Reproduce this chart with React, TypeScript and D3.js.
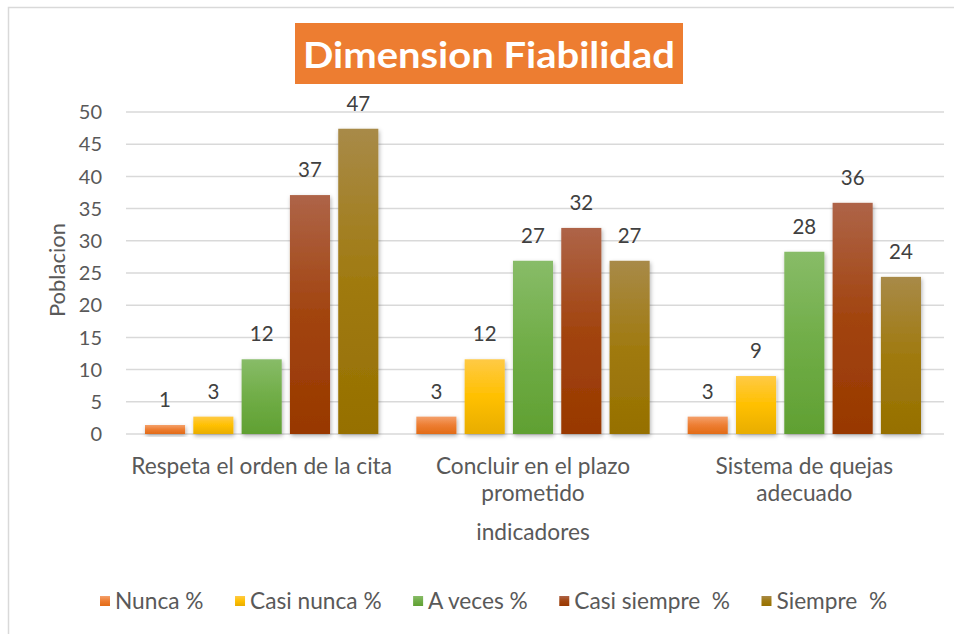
import React, { useEffect, useRef } from "react";
import * as d3 from "d3";

const categories = [
  "Respeta el orden de la cita",
  "Concluir en el plazo prometido",
  "Sistema de quejas adecuado",
];
const seriesNames = ["Nunca %", "Casi nunca %", "A veces %", "Casi siempre  %", "Siempre  %"];
const nunca = [1.4, 2.7, 2.7];
const casiNunca = [2.7, 11.6, 9.0];
const aVeces = [11.6, 26.9, 28.3];
const casiSiempre = [37.1, 32.0, 35.9];
const siempre = [47.4, 26.9, 24.4];
const yTicks = [0, 5, 10, 15, 20, 25, 30, 35, 40, 45, 50];
const seriesValues = [nunca, casiNunca, aVeces, casiSiempre, siempre];
const palette = [
  ["#f4a06b", "#ed7d31", "#e26b17"],
  ["#ffca45", "#ffc000", "#e8ad00"],
  ["#88bc68", "#70ad47", "#60a032"],
  ["#ae6448", "#a2440f", "#983800"],
  ["#a88a48", "#a07a10", "#967000"],
];

const FONT = "Lato, 'Open Sans', sans-serif";
const TXT = 22.7;

export default function App() {
  const ref = useRef<SVGSVGElement>(null);
  useEffect(() => {
    const svg = d3.select(ref.current);
    svg.selectAll("*").remove();
    const W = 954, H = 634;
    const left = 126, right = 940, top = 112, bottom = 434;

    const defs = svg.append("defs");
    palette.forEach((c, i) => {
      const g = defs.append("linearGradient").attr("id", "g" + i).attr("x1", 0).attr("y1", 0).attr("x2", 0).attr("y2", 1);
      g.append("stop").attr("offset", "0%").attr("stop-color", c[0]);
      g.append("stop").attr("offset", "50%").attr("stop-color", c[1]);
      g.append("stop").attr("offset", "100%").attr("stop-color", c[2]);
    });
    const f = defs.append("filter").attr("id", "sh").attr("x", "-20%").attr("y", "-20%").attr("width", "150%").attr("height", "150%");
    f.append("feDropShadow").attr("dx", 1).attr("dy", 2).attr("stdDeviation", 2).attr("flood-color", "#000").attr("flood-opacity", 0.3);

    svg.append("rect").attr("x", 0).attr("y", 0).attr("width", W).attr("height", H).attr("fill", "#fff");
    svg.append("rect").attr("x", 8.5).attr("y", 7.5).attr("width", 960).attr("height", 660)
      .attr("fill", "none").attr("stroke", "#d9d9d9").attr("stroke-width", 1.5);

    const y = d3.scaleLinear().domain([0, 50]).range([bottom, top]);
    const x0 = d3.scaleBand<string>().domain(categories).range([left, right]);
    const x1 = d3.scaleBand<string>().domain(seriesNames).range([19, x0.bandwidth() - 19]).paddingInner(0.17);

    // gridlines
    svg.append("g").selectAll("line").data(yTicks).join("line")
      .attr("x1", left).attr("x2", 944)
      .attr("y1", (d) => y(d)).attr("y2", (d) => y(d))
      .attr("stroke", "#d9d9d9").attr("stroke-width", 1.5);

    // y tick labels
    svg.append("g").selectAll("text").data(yTicks).join("text")
      .attr("x", 102).attr("y", (d) => y(d)).attr("dy", "0.36em")
      .attr("text-anchor", "end").attr("font-family", FONT).attr("font-size", 20).attr("fill", "#595959")
      .text((d) => String(d));

    // y axis title
    svg.append("text").attr("transform", "translate(65,270) rotate(-90)")
      .attr("text-anchor", "middle").attr("font-family", FONT).attr("font-size", 22).attr("fill", "#595959")
      .text("Poblacion");

    // bars
    const gBars = svg.append("g");
    seriesNames.forEach((s, si) => {
      gBars.append("g").selectAll("rect").data(seriesValues[si]).join("rect")
        .attr("x", (d, i) => (x0(categories[i]) as number) + (x1(s) as number))
        .attr("y", (d) => y(d))
        .attr("width", x1.bandwidth())
        .attr("height", (d) => bottom - y(d))
        .attr("fill", `url(#g${si})`)
        .attr("filter", "url(#sh)");
    });
    // data labels
    seriesNames.forEach((s, si) => {
      svg.append("g").selectAll("text").data(seriesValues[si]).join("text")
        .attr("x", (d, i) => (x0(categories[i]) as number) + (x1(s) as number) + x1.bandwidth() / 2)
        .attr("y", (d) => y(d) - 18)
        .attr("text-anchor", "middle").attr("font-family", FONT).attr("font-size", 20.5).attr("fill", "#404040")
        .text((d) => String(Math.round(d)));
    });

    // category labels with wrapping
    categories.forEach((c) => {
      const t = svg.append("text").attr("text-anchor", "middle").attr("font-family", FONT)
        .attr("font-size", TXT).attr("fill", "#595959");
      const cx = (x0(c) as number) + x0.bandwidth() / 2;
      const words = c.split(" ");
      let line: string[] = [];
      let lineNo = 0;
      let ts = t.append("tspan").attr("x", cx).attr("y", 474);
      words.forEach((w) => {
        line.push(w);
        ts.text(line.join(" "));
        if ((ts.node() as SVGTSpanElement).getComputedTextLength() > x0.bandwidth() - 6 && line.length > 1) {
          line.pop();
          ts.text(line.join(" "));
          line = [w];
          lineNo++;
          ts = t.append("tspan").attr("x", cx).attr("y", 474 + lineNo * 27).text(w);
        }
      });
    });

    // x axis title
    svg.append("text").attr("x", (left + right) / 2).attr("y", 540).attr("text-anchor", "middle")
      .attr("font-family", FONT).attr("font-size", TXT).attr("fill", "#595959").text("indicadores");

    // title
    svg.append("rect").attr("x", 295).attr("y", 23).attr("width", 388).attr("height", 61).attr("fill", "#ed7d31");
    svg.append("text").attr("x", 489).attr("y", 68).attr("text-anchor", "middle")
      .attr("font-family", FONT).attr("font-weight", "bold").attr("font-size", 37).attr("fill", "#fff")
      .attr("textLength", 372).attr("lengthAdjust", "spacingAndGlyphs")
      .text("Dimension Fiabilidad");

    // legend
    const lg = svg.append("g");
    let lx = 100;
    seriesNames.forEach((s, si) => {
      lg.append("rect").attr("x", lx).attr("y", 596).attr("width", 10).attr("height", 10).attr("fill", `url(#g${si})`);
      const tt = lg.append("text").attr("x", lx + 15).attr("y", 609).attr("font-family", FONT)
        .attr("font-size", TXT).attr("fill", "#595959").attr("xml:space", "preserve").style("white-space", "pre").text(s);
      const w = (tt.node() as SVGTextElement).getComputedTextLength();
      lx += 15 + w + 31.5;
    });
  }, []);
  return (
    <svg ref={ref} width={954} height={634} style={{ position: "absolute", left: 0, top: 0, display: "block" }} />
  );
}
